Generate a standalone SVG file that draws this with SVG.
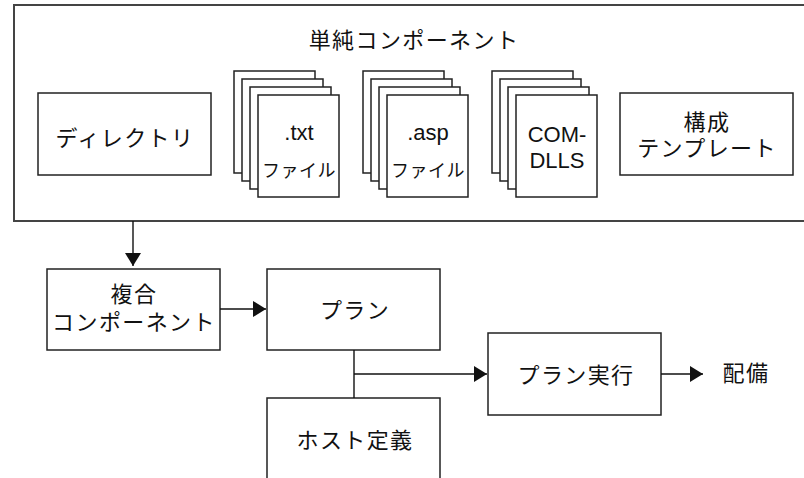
<svg xmlns="http://www.w3.org/2000/svg" xmlns:xlink="http://www.w3.org/1999/xlink" width="804" height="478" viewBox="0 0 804 478">
  <style>
    .box { fill: #fff; stroke: #222; stroke-width: 1.5; }
    .outer { fill: #fff; stroke: #444; stroke-width: 2; }
    .page { fill: #fff; stroke: #222; stroke-width: 1.5; }
    .conn { fill: none; stroke: #111; stroke-width: 1.4; }
    text { font-family: "Liberation Sans", "Noto Sans CJK JP", sans-serif; fill: #111; text-anchor: middle; }
    .lg { font-size: 22px; letter-spacing: 1.4px; }
    .sm { font-size: 18px; letter-spacing: 0.5px; }
    .lat { font-size: 22px; }
  </style>
  <defs>
    <marker id="arrow" markerUnits="userSpaceOnUse" markerWidth="13" markerHeight="16" refX="13" refY="8" orient="auto">
      <path d="M0,0 L13,8 L0,16 z" fill="#111"/>
    </marker>
    <g id="stack">
      <rect class="page" x="0" y="0" width="81" height="102"/>
      <rect class="page" x="8" y="8" width="81" height="102"/>
      <rect class="page" x="16" y="16" width="81" height="102"/>
      <rect class="page" x="24" y="24" width="81" height="102"/>
    </g>
  </defs>

  <g id="simple-components">
    <rect class="outer" x="14" y="5" width="800" height="216"/>
    <text class="lg" x="414" y="48">単純コンポーネント</text>
  </g>

  <g id="directory">
    <rect class="box" x="38" y="93" width="173" height="82"/>
    <text class="lg" x="125" y="146">ディレクトリ</text>
  </g>

  <g id="txt-files">
    <use xlink:href="#stack" x="234" y="71"/>
    <text class="lat" x="299" y="140">.txt</text>
    <text class="sm" x="299" y="177">ファイル</text>
  </g>

  <g id="asp-files">
    <use xlink:href="#stack" x="363" y="71"/>
    <text class="lat" x="428" y="140">.asp</text>
    <text class="sm" x="428" y="177">ファイル</text>
  </g>

  <g id="com-dlls">
    <use xlink:href="#stack" x="492" y="71"/>
    <text class="lat" x="557" y="142">COM-</text>
    <text class="lat" x="557" y="168">DLLS</text>
  </g>

  <g id="config-template">
    <rect class="box" x="620" y="93" width="173" height="82"/>
    <text class="lg" x="707" y="130">構成</text>
    <text class="lg" x="707" y="156">テンプレート</text>
  </g>

  <g id="composite">
    <rect class="box" x="47" y="269" width="173" height="81"/>
    <text class="lg" x="134" y="302">複合</text>
    <text class="lg" x="134" y="330">コンポーネント</text>
  </g>

  <g id="plan">
    <rect class="box" x="267" y="269" width="173" height="81"/>
    <text class="lg" x="355" y="318">プラン</text>
  </g>

  <g id="host-def">
    <rect class="box" x="267" y="398" width="173" height="100"/>
    <text class="lg" x="355" y="448">ホスト定義</text>
  </g>

  <g id="plan-exec">
    <rect class="box" x="488" y="333" width="173" height="82"/>
    <text class="lg" x="576" y="383">プラン実行</text>
  </g>

  <g id="deploy">
    <text class="lg" x="746" y="381">配備</text>
  </g>

  <g id="connectors">
    <line class="conn" x1="133" y1="221" x2="133" y2="266" marker-end="url(#arrow)"/>
    <line class="conn" x1="220" y1="309" x2="266" y2="309" marker-end="url(#arrow)"/>
    <line class="conn" x1="354" y1="350" x2="354" y2="398"/>
    <line class="conn" x1="354" y1="374" x2="487" y2="374" marker-end="url(#arrow)"/>
    <line class="conn" x1="661" y1="374" x2="703" y2="374" marker-end="url(#arrow)"/>
  </g>
</svg>
